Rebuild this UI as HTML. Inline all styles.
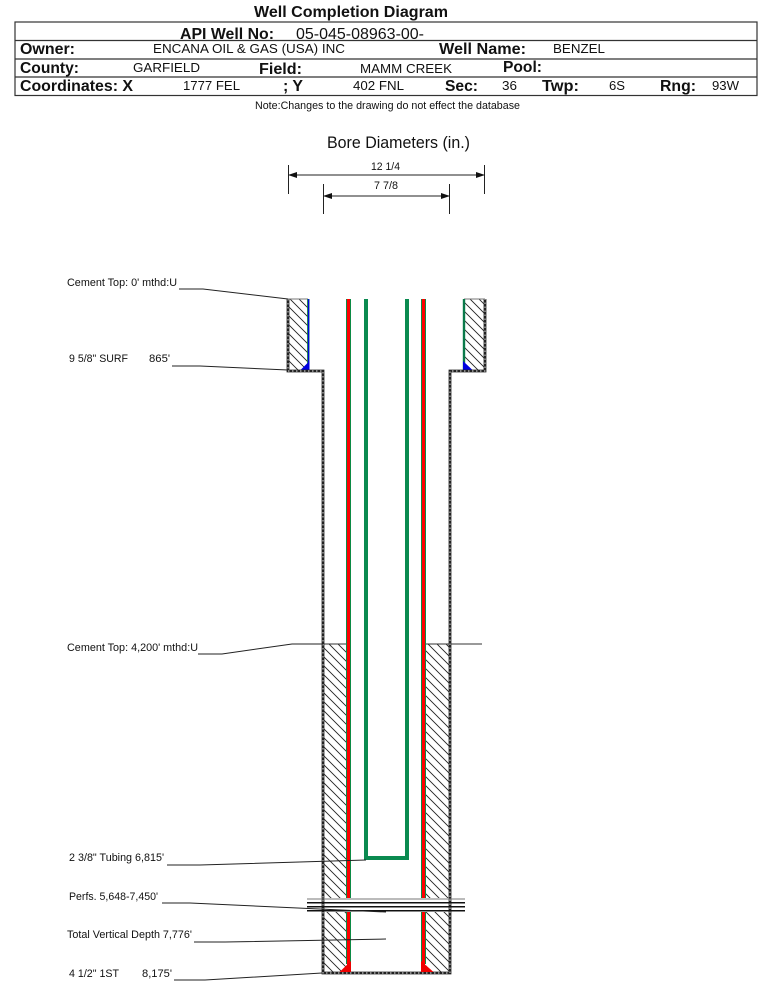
<!DOCTYPE html>
<html><head><meta charset="utf-8"><title>Well Completion Diagram</title>
<style>html,body{margin:0;padding:0;background:#fff;width:759px;height:981px;overflow:hidden}svg{display:block}text{font-family:"Liberation Sans",sans-serif;fill:#111}.b{font-weight:bold;font-size:16px}.v{font-size:13px}.l{font-size:11px}</style></head>
<body>
<svg width="759" height="981" viewBox="0 0 759 981" xmlns="http://www.w3.org/2000/svg">
<defs>
<pattern id="h" patternUnits="userSpaceOnUse" width="9" height="9"><path d="M-1 -1L10 10M-1 8L1 10M8 -1L10 1" stroke="#222" stroke-width="0.9"/></pattern>
<marker id="a" markerWidth="9" markerHeight="6" refX="8" refY="3" orient="auto-start-reverse" markerUnits="userSpaceOnUse"><path d="M0 0L9 3L0 6Z" fill="#111"/></marker>
</defs>
<text x="254" y="17" class="b" textLength="194" lengthAdjust="spacingAndGlyphs">Well Completion Diagram</text>
<g stroke="#333" stroke-width="1.2" fill="none"><rect x="15" y="22" width="742" height="73.5"/><path d="M15 40.5H757M15 59H757M15 77H757"/></g>
<text x="180" y="39" class="b" textLength="94" lengthAdjust="spacingAndGlyphs">API Well No:</text>
<text x="296" y="39" font-size="16" textLength="128" lengthAdjust="spacingAndGlyphs">05-045-08963-00-</text>
<text x="20" y="54" class="b" textLength="55" lengthAdjust="spacingAndGlyphs">Owner:</text>
<text x="153" y="53" class="v" textLength="192" lengthAdjust="spacingAndGlyphs">ENCANA OIL &amp; GAS (USA) INC</text>
<text x="439" y="54" class="b" textLength="87" lengthAdjust="spacingAndGlyphs">Well Name:</text>
<text x="553" y="53" class="v" textLength="52" lengthAdjust="spacingAndGlyphs">BENZEL</text>
<text x="20" y="73" class="b" textLength="59" lengthAdjust="spacingAndGlyphs">County:</text>
<text x="133" y="72" class="v" textLength="67" lengthAdjust="spacingAndGlyphs">GARFIELD</text>
<text x="259" y="74" class="b" textLength="43" lengthAdjust="spacingAndGlyphs">Field:</text>
<text x="360" y="73" class="v" textLength="92" lengthAdjust="spacingAndGlyphs">MAMM CREEK</text>
<text x="503" y="72" class="b" textLength="39" lengthAdjust="spacingAndGlyphs">Pool:</text>
<text x="20" y="91" class="b" textLength="113" lengthAdjust="spacingAndGlyphs">Coordinates: X</text>
<text x="183" y="90" class="v" textLength="57" lengthAdjust="spacingAndGlyphs">1777 FEL</text>
<text x="283" y="91" class="b" textLength="20" lengthAdjust="spacingAndGlyphs">; Y</text>
<text x="353" y="90" class="v" textLength="51" lengthAdjust="spacingAndGlyphs">402 FNL</text>
<text x="445" y="91" class="b" textLength="33" lengthAdjust="spacingAndGlyphs">Sec:</text>
<text x="502" y="90" class="v" textLength="15" lengthAdjust="spacingAndGlyphs">36</text>
<text x="542" y="91" class="b" textLength="37" lengthAdjust="spacingAndGlyphs">Twp:</text>
<text x="609" y="90" class="v" textLength="16" lengthAdjust="spacingAndGlyphs">6S</text>
<text x="660" y="91" class="b" textLength="36" lengthAdjust="spacingAndGlyphs">Rng:</text>
<text x="712" y="90" class="v" textLength="27" lengthAdjust="spacingAndGlyphs">93W</text>
<text x="255" y="109" class="l" textLength="265" lengthAdjust="spacingAndGlyphs">Note:Changes to the drawing do not effect the database</text>
<text x="327" y="148" font-size="16.500" textLength="143" lengthAdjust="spacingAndGlyphs">Bore Diameters (in.)</text>
<text x="371" y="170" class="l" textLength="29" lengthAdjust="spacingAndGlyphs">12 1/4</text>
<text x="374" y="189" class="l" textLength="24" lengthAdjust="spacingAndGlyphs">7 7/8</text>
<g stroke="#222" stroke-width="1" fill="none">
<path d="M288.500 165V194M484.500 165V194M323.500 184V214M449.500 184V214"/>
<path d="M289 175H484" marker-start="url(#a)" marker-end="url(#a)"/>
<path d="M324 196H449" marker-start="url(#a)" marker-end="url(#a)"/>
</g>
<rect x="288" y="299" width="20" height="72" fill="url(#h)"/>
<rect x="464" y="299" width="21" height="72" fill="url(#h)"/>
<rect x="323" y="644" width="24" height="329" fill="url(#h)"/>
<rect x="426" y="644" width="24" height="329" fill="url(#h)"/>
<rect x="306" y="898" width="160" height="14" fill="#fff"/>
<path d="M288 299H308M464 299H485" stroke="#777" stroke-width="1"/>
<path d="M323 644H347M426 644H450M450 644H482" stroke="#333" stroke-width="1"/>
<path d="M308.300 299V371M464 299V371" stroke="#0a7a4a" stroke-width="2.400"/>
<path d="M308.600 299V371" stroke="#0000dd" stroke-width="1.200"/>
<path d="M309.500 361V370H300.500Z" fill="#0000e0"/><path d="M463 361V370H472.500Z" fill="#0000e0"/>
<g fill="none">
<path d="M288 299V371H323V973H450V371H485V299" stroke="#222" stroke-width="2.800"/>
<path d="M288 299V371H323V973H450V371H485V299" stroke="#eee" stroke-width="0.900" stroke-dasharray="1.500 2.500"/>
</g>
<g stroke="#0c8a45" stroke-width="5" fill="none"><path d="M348.500 299V964M423.500 299V964"/></g>
<g stroke="#ff0000" stroke-width="3" fill="none"><path d="M348.500 299V968M423.500 299V968"/></g>
<path d="M351 961V972H339.500Z" fill="#ee0000"/><path d="M421 961V972H433.500Z" fill="#ee0000"/>
<path d="M366 299V858H407V299" fill="none" stroke="#0a8a50" stroke-width="4"/>
<rect x="344" y="898" width="84" height="14" fill="#fff"/>
<g stroke="#111" stroke-width="1.500"><path d="M307 902.800H465M307 906.800H465M307 910.800H465"/></g>
<path d="M307 899H465" stroke="#777" stroke-width="1"/>
<g stroke="#222" stroke-width="1" fill="none">
<path d="M179 289H203L288 299"/>
<path d="M172 366H200L288 370"/>
<path d="M198 654H222L292 644H323"/>
<path d="M167 865H200L366 860"/>
<path d="M162 903H190L386 912"/>
<path d="M194 942H225L386 939"/>
<path d="M174 980H205L322 973"/>
</g>
<text x="67" y="286" class="l" textLength="110" lengthAdjust="spacingAndGlyphs">Cement Top: 0' mthd:U</text>
<text x="69" y="362" class="l" textLength="59" lengthAdjust="spacingAndGlyphs">9 5/8" SURF</text>
<text x="149" y="362" class="l" textLength="21" lengthAdjust="spacingAndGlyphs">865'</text>
<text x="67" y="651" class="l" textLength="131" lengthAdjust="spacingAndGlyphs">Cement Top: 4,200' mthd:U</text>
<text x="69" y="861" class="l" textLength="95" lengthAdjust="spacingAndGlyphs">2 3/8" Tubing 6,815'</text>
<text x="69" y="900" class="l" textLength="89" lengthAdjust="spacingAndGlyphs">Perfs. 5,648-7,450'</text>
<text x="67" y="938" class="l" textLength="125" lengthAdjust="spacingAndGlyphs">Total Vertical Depth 7,776'</text>
<text x="69" y="977" class="l" textLength="50" lengthAdjust="spacingAndGlyphs">4 1/2" 1ST</text>
<text x="142" y="977" class="l" textLength="30" lengthAdjust="spacingAndGlyphs">8,175'</text>
</svg>
</body></html>
